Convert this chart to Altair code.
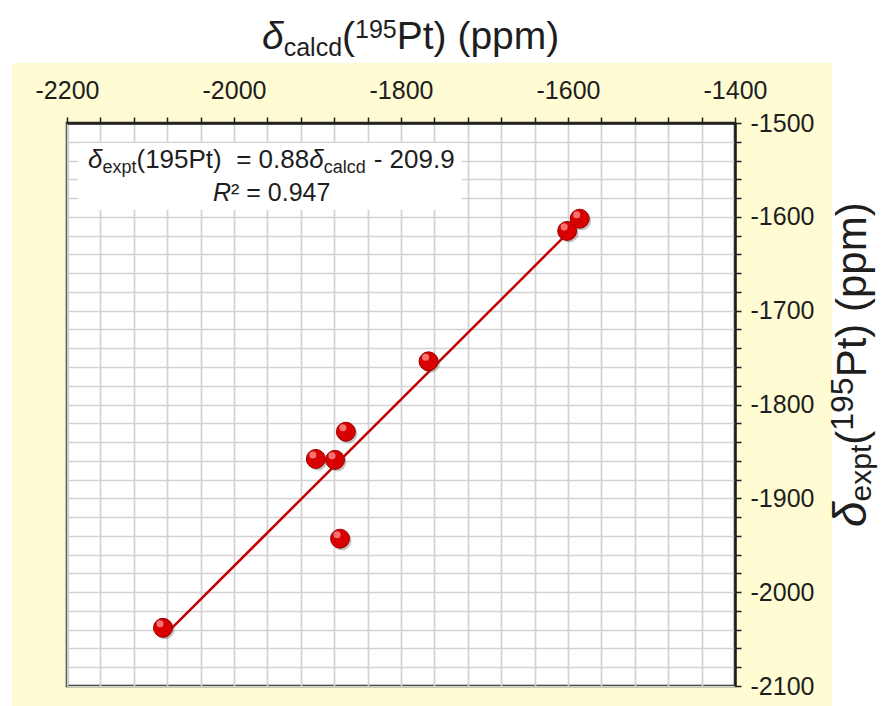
import altair as alt
import pandas as pd

# ---- data ----
calcd = [-2085, -1902, -1879, -1866, -1873, -1767, -1601, -1586]
expt = [-2038, -1858, -1859, -1829, -1943, -1754, -1615, -1602]
x_ticks = list(range(-2200, -1399, 40))
y_ticks = list(range(-2100, -1499, 20))
x_domain = [-2200, -1400]
y_domain = [-2100, -1500]
eq_slope = "0.88"
eq_intercept = "209.9"
r_squared = "0.947"

df = pd.DataFrame({"calcd": calcd, "expt": expt})

# ---- layout ----
W, H = 668, 563
PADL, PADT, PADR, PADB = 67, 123, 148, 20
FONT = "Liberation Sans"
INK = "#1e1e1e"
YELLOW = "#FFFBD2"
NB = "\u00a0"

AW = {"δ": 0.556, "e": 0.556, "x": 0.5, "p": 0.556, "t": 0.278, "c": 0.5, "a": 0.556,
      "l": 0.222, "d": 0.556, "(": 0.333, ")": 0.333, "P": 0.667, " ": 0.278, NB: 0.278,
      "=": 0.584, ".": 0.278, "-": 0.333, "m": 0.833, "R": 0.722, "²": 0.333}


def tw(s, size):
    return sum(AW.get(ch, 0.556) for ch in s) * size


one = alt.Data(values=[{"k": 1}])


def run(pieces, x0, y0, rotate=False):
    """pieces: (text, size, style, shift, gap_before) placed one after another."""
    layers = []
    cum = 0.0
    for text, size, style, shift, gap in pieces:
        cum += gap
        if rotate:
            px, py, ang = x0 + shift, y0 - cum, 270
        else:
            px, py, ang = x0 + cum, y0 + shift, 0
        layers.append(
            alt.Chart(one).mark_text(
                text=text, font=FONT, fontSize=size, fontStyle=style, color=INK,
                align="left", baseline="alphabetic", angle=ang,
            ).encode(x=alt.value(px), y=alt.value(py))
        )
        cum += tw(text, size)
    return layers


def rect(x, x2, y, y2, color):
    return alt.Chart(one).mark_rect(color=color).encode(
        x=alt.value(x), x2=alt.value(x2), y=alt.value(y), y2=alt.value(y2))


xenc = alt.X(
    "calcd:Q",
    scale=alt.Scale(domain=x_domain, nice=False, zero=False),
    axis=alt.Axis(
        orient="top", values=x_ticks, tickCount=200, title=None,
        labelExpr="datum.value % 200 == 0 ? '' + datum.value : ''",
        labelFont=FONT, labelFontSize=25, labelColor=INK, labelPadding=14,
        labelOverlap=False, labelFlush=False,
        tickSize=6, tickColor=INK, tickWidth=1.5,
        domainColor=INK, domainWidth=2.5,
        gridColor="#d2d2d2", gridWidth=1.7,
    ),
)
yenc = alt.Y(
    "expt:Q",
    scale=alt.Scale(domain=y_domain, nice=False, zero=False),
    axis=alt.Axis(
        orient="right", values=y_ticks, tickCount=200, title=None,
        labelExpr="datum.value % 100 == 0 ? '' + datum.value : ''",
        labelFont=FONT, labelFontSize=25, labelColor=INK, labelPadding=9,
        labelOverlap=False, labelFlush=False,
        tickSize=6, tickColor=INK, tickWidth=1.5,
        domainColor=INK, domainWidth=2.5,
        gridColor="#d2d2d2", gridWidth=1.7,
    ),
)

# white margins outside the yellow panel (plot-relative pixel coords)
total_w = PADL + W + PADR
total_h = PADT + H + PADB
strips = [
    rect(-PADL, total_w - PADL, -PADT, 63 - PADT, "white"),
    rect(-PADL, 12 - PADL, -PADT, total_h - PADT, "white"),
    rect(832 - PADL, total_w - PADL, -PADT, total_h - PADT, "white"),
]

eq_box = rect(11, 395, 20, 87, "white")

line = alt.Chart(df).transform_regression("calcd", "expt").mark_line(
    color="#C40000", strokeWidth=2.5).encode(x=xenc, y=yenc)

shadow = alt.Chart(df).mark_point(filled=True, size=360, color="#555555", opacity=0.35).encode(
    x="calcd:Q", y="expt:Q", xOffset=alt.value(2), yOffset=alt.value(2))
balls = alt.Chart(df).mark_point(filled=True, size=360, color="#D80000", opacity=1,
                                 stroke="#9A0000", strokeWidth=1).encode(x=xenc, y=yenc)
shine = alt.Chart(df).mark_point(filled=True, size=50, color="#FF9A9A", opacity=0.75).encode(
    x="calcd:Q", y="expt:Q", xOffset=alt.value(-3), yOffset=alt.value(-4))

# text pieces
top_title = run([("δ", 39, "italic", 0, 0), ("calcd", 25, "normal", 7, 0), ("(", 39, "normal", 0, 0),
                 ("195", 25, "normal", -11, 0), ("Pt) (ppm)", 39, "normal", 0, 0)],
                262 - PADL, 49 - PADT)
right_title = run([("δ", 46, "italic", 0, 0), ("expt", 30, "normal", 5, 0), ("(", 42, "normal", 0, 0),
                   ("195", 32, "normal", -13, 0), ("Pt) (ppm)", 42, "normal", 0, 0)],
                  866 - PADL, 527 - PADT, rotate=True)
eq1 = run([("δ", 26, "italic", 0, 0), ("expt", 18, "normal", 5, 0),
           ("(195Pt)" + NB + NB + "=" + NB + eq_slope, 26, "normal", 0, 0),
           ("δ", 26, "italic", 0, 0), ("calcd", 18, "normal", 5, 0),
           ("-" + NB + eq_intercept, 26, "normal", 0, 8)],
          88 - PADL, 168 - PADT)
eq2 = run([("R", 25, "italic", 0, 0), ("²" + NB + "=" + NB + r_squared, 25, "normal", 0, 0)],
          213 - PADL, 201 - PADT)

chart = alt.layer(
    *strips, eq_box, line, shadow, balls, shine, *top_title, *right_title, *eq1, *eq2
).properties(
    width=W, height=H,
    padding={"left": PADL, "top": PADT, "right": PADR, "bottom": PADB},
    autosize=alt.AutoSizeParams(type="none"),
    background=YELLOW,
).configure_view(
    fill="white", stroke=INK, strokeWidth=2.5
)

chart.save("out.html", embed_options={"renderer": "svg", "actions": False})
